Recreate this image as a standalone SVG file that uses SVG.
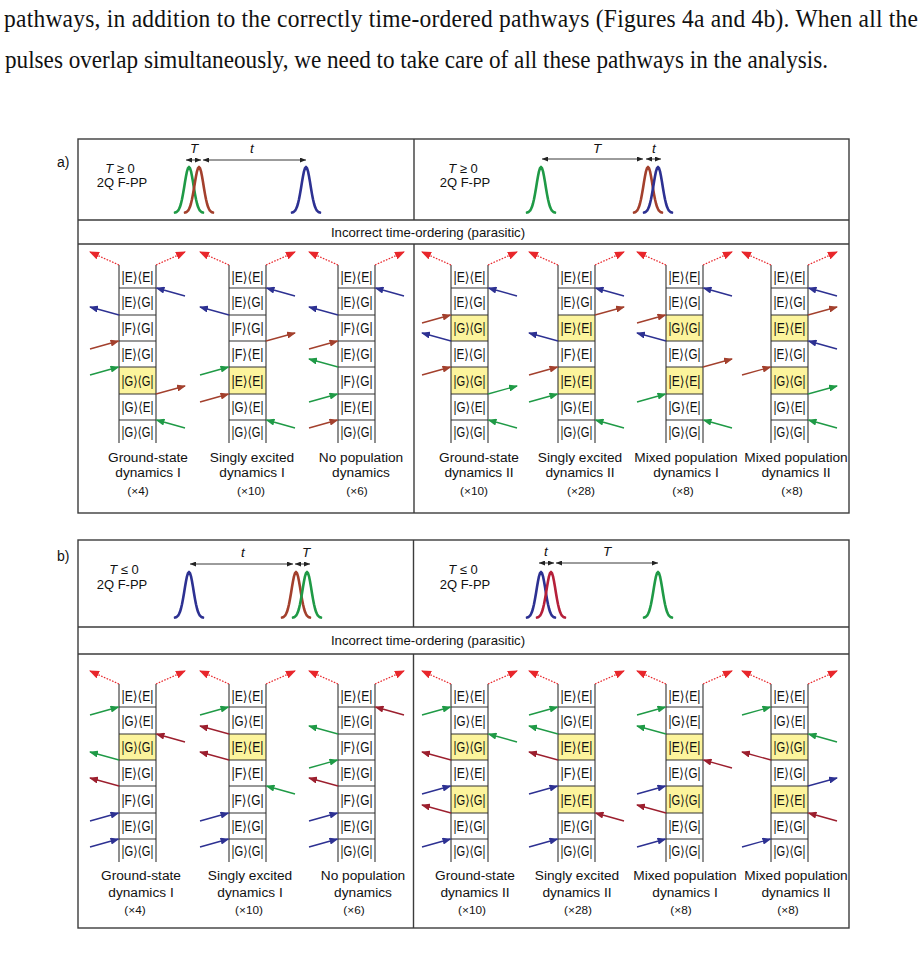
<svg xmlns="http://www.w3.org/2000/svg" xmlns:xlink="http://www.w3.org/1999/xlink" width="924" height="965" viewBox="0 0 924 965">
<style>
.para{font-family:"Liberation Serif","Times New Roman",serif;font-size:23.5px;fill:#111}
.sans{font-family:"Liberation Sans",Arial,sans-serif;fill:#111}
.frame{fill:none;stroke:#3c3c3c;stroke-width:1.4}
.rail{fill:none;stroke:#333;stroke-width:1.1}
.hl{fill:#fcf49c}
.st{font-family:"Liberation Sans","DejaVu Sans",sans-serif;font-size:14px;text-anchor:middle;fill:#111}
.lbl{font-family:"Liberation Sans",Arial,sans-serif;font-size:13.7px;text-anchor:middle;fill:#111}
.mult{font-family:"Liberation Sans",Arial,sans-serif;font-size:11.8px;text-anchor:middle;fill:#111}
.hdr{font-family:"Liberation Sans",Arial,sans-serif;font-size:13.2px;text-anchor:middle;fill:#111}
.cond{font-family:"Liberation Sans",Arial,sans-serif;font-size:13px;text-anchor:middle;fill:#111}
.dl{font-family:"Liberation Sans",Arial,sans-serif;font-size:13.5px;font-style:italic;text-anchor:middle;fill:#111}
.tarr{fill:none;stroke:#222;stroke-width:0.9;marker-start:url(#tk);marker-end:url(#tk)}
.pulse{fill:none;stroke-width:2.6;stroke-linejoin:round;stroke-linecap:round}
.cb{fill:none;stroke:#2d3192;stroke-width:1.3;marker-end:url(#hB)}
.cg{fill:none;stroke:#1f9a46;stroke-width:1.3;marker-end:url(#hG)}
.cr{fill:none;stroke:#a3402d;stroke-width:1.3;marker-end:url(#hR)}
.cc{fill:none;stroke:#9c1f2e;stroke-width:1.3;marker-end:url(#hC)}
.cd{fill:none;stroke:#e8262b;stroke-width:1.2;stroke-dasharray:1.6 1.4;marker-end:url(#hD)}
</style>
<defs>
<marker id="hB" markerUnits="userSpaceOnUse" markerWidth="9" markerHeight="7" refX="8" refY="3.5" orient="auto"><path d="M0,0L9,3.5L0,7z" fill="#2d3192"/></marker>
<marker id="hG" markerUnits="userSpaceOnUse" markerWidth="9" markerHeight="7" refX="8" refY="3.5" orient="auto"><path d="M0,0L9,3.5L0,7z" fill="#1f9a46"/></marker>
<marker id="hR" markerUnits="userSpaceOnUse" markerWidth="9" markerHeight="7" refX="8" refY="3.5" orient="auto"><path d="M0,0L9,3.5L0,7z" fill="#a3402d"/></marker>
<marker id="hC" markerUnits="userSpaceOnUse" markerWidth="9" markerHeight="7" refX="8" refY="3.5" orient="auto"><path d="M0,0L9,3.5L0,7z" fill="#9c1f2e"/></marker>
<marker id="hD" markerUnits="userSpaceOnUse" markerWidth="10" markerHeight="8" refX="9" refY="4" orient="auto"><path d="M0,0L10,4L0,8z" fill="#e8262b"/></marker>
<marker id="tk" markerUnits="userSpaceOnUse" markerWidth="6" markerHeight="5" refX="6" refY="2.5" orient="auto-start-reverse"><path d="M0,0L6,2.5L0,5z" fill="#222"/></marker>
<path id="pulse" d="M-14,-0.4L-13,-0.7L-12,-1.3L-11,-2.3L-10,-3.9L-9,-6.2L-8,-9.5L-7,-13.7L-6,-18.9L-5,-24.8L-4,-31L-3,-36.8L-2,-41.7L-1,-44.9L0,-46L1,-44.9L2,-41.7L3,-36.8L4,-31L5,-24.8L6,-18.9L7,-13.7L8,-9.5L9,-6.2L10,-3.9L11,-2.3L12,-1.3L13,-0.7L14,-0.4"/>
<path id="fr" d="M0,0V178M37,0V178M0,23H37M0,50H37M0,76H37M0,102H37M0,129H37M0,155H37"/>
</defs>
<rect width="924" height="965" fill="#fff"/>

<g id="paragraph" transform="scale(1,1.1)">
<text class="para" x="4" y="24.5" textLength="914" lengthAdjust="spacing">pathways, in addition to the correctly time-ordered pathways (Figures 4a and 4b). When all the</text>
<text class="para" x="5" y="61.8" textLength="823" lengthAdjust="spacingAndGlyphs">pulses overlap simultaneously, we need to take care of all these pathways in the analysis.</text>
</g>

<!-- PANEL A -->
<g id="panelA">
<text class="sans" x="57" y="167" font-size="14">a)</text>
<rect class="frame" x="78" y="139" width="771" height="374"/>
<path class="frame" d="M78,220H849M78,244H849M414,139V220M414,244V513"/>
<text class="hdr" x="428" y="237">Incorrect time-ordering (parasitic)</text>
</g>

<g id="pulsesA1">
<text class="cond" x="120" y="173"><tspan font-style="italic">T</tspan> ≥ 0</text>
<text class="cond" x="122" y="187">2Q F-PP</text>
<use href="#pulse" x="189" y="213" class="pulse" stroke="#1f9a46"/>
<use href="#pulse" x="199" y="213" class="pulse" stroke="#a3402d"/>
<use href="#pulse" x="306" y="213" class="pulse" stroke="#2d3192"/>
<path class="tarr" d="M186,160H201"/>
<path class="tarr" d="M203,160H306"/>
<text class="dl" x="194" y="153">T</text>
<text class="dl" x="252" y="153">t</text>
</g>

<g id="pulsesA2">
<text class="cond" x="463" y="173"><tspan font-style="italic">T</tspan> ≥ 0</text>
<text class="cond" x="465" y="187">2Q F-PP</text>
<use href="#pulse" x="541" y="213" class="pulse" stroke="#1f9a46"/>
<use href="#pulse" x="648" y="213" class="pulse" stroke="#a3402d"/>
<use href="#pulse" x="658" y="213" class="pulse" stroke="#2d3192"/>
<path class="tarr" d="M542,159H643"/>
<path class="tarr" d="M646,159H661"/>
<text class="dl" x="597" y="153">T</text>
<text class="dl" x="654" y="153">t</text>
</g>

<g id="a1">
<g transform="translate(119,265)">
<rect class="hl" x="0" y="102" width="37" height="27"/>
<use href="#fr" class="rail"/>
<text class="st" x="18.5" y="16.5" textLength="32" lengthAdjust="spacingAndGlyphs">|E⟩⟨E|</text>
<text class="st" x="18.5" y="41.5" textLength="32" lengthAdjust="spacingAndGlyphs">|E⟩⟨G|</text>
<text class="st" x="18.5" y="68" textLength="32" lengthAdjust="spacingAndGlyphs">|F⟩⟨G|</text>
<text class="st" x="18.5" y="94" textLength="32" lengthAdjust="spacingAndGlyphs">|E⟩⟨G|</text>
<text class="st" x="18.5" y="120.5" textLength="32" lengthAdjust="spacingAndGlyphs">|G⟩⟨G|</text>
<text class="st" x="18.5" y="147" textLength="32" lengthAdjust="spacingAndGlyphs">|G⟩⟨E|</text>
<text class="st" x="18.5" y="171.5" textLength="32" lengthAdjust="spacingAndGlyphs">|G⟩⟨G|</text>
</g>
<text class="lbl" x="148" y="462">Ground-state</text>
<text class="lbl" x="148" y="477">dynamics I</text>
<text class="mult" x="138" y="495">(×4)</text>
</g>

<g id="a2">
<g transform="translate(229,265)">
<rect class="hl" x="0" y="102" width="37" height="27"/>
<use href="#fr" class="rail"/>
<text class="st" x="18.5" y="16.5" textLength="32" lengthAdjust="spacingAndGlyphs">|E⟩⟨E|</text>
<text class="st" x="18.5" y="41.5" textLength="32" lengthAdjust="spacingAndGlyphs">|E⟩⟨G|</text>
<text class="st" x="18.5" y="68" textLength="32" lengthAdjust="spacingAndGlyphs">|F⟩⟨G|</text>
<text class="st" x="18.5" y="94" textLength="32" lengthAdjust="spacingAndGlyphs">|F⟩⟨E|</text>
<text class="st" x="18.5" y="120.5" textLength="32" lengthAdjust="spacingAndGlyphs">|E⟩⟨E|</text>
<text class="st" x="18.5" y="147" textLength="32" lengthAdjust="spacingAndGlyphs">|G⟩⟨E|</text>
<text class="st" x="18.5" y="171.5" textLength="32" lengthAdjust="spacingAndGlyphs">|G⟩⟨G|</text>
</g>
<text class="lbl" x="252" y="462">Singly excited</text>
<text class="lbl" x="252" y="477">dynamics I</text>
<text class="mult" x="251" y="495">(×10)</text>
</g>

<g id="a3">
<g transform="translate(338,265)">
<use href="#fr" class="rail"/>
<text class="st" x="18.5" y="16.5" textLength="32" lengthAdjust="spacingAndGlyphs">|E⟩⟨E|</text>
<text class="st" x="18.5" y="41.5" textLength="32" lengthAdjust="spacingAndGlyphs">|E⟩⟨G|</text>
<text class="st" x="18.5" y="68" textLength="32" lengthAdjust="spacingAndGlyphs">|F⟩⟨G|</text>
<text class="st" x="18.5" y="94" textLength="32" lengthAdjust="spacingAndGlyphs">|E⟩⟨G|</text>
<text class="st" x="18.5" y="120.5" textLength="32" lengthAdjust="spacingAndGlyphs">|F⟩⟨G|</text>
<text class="st" x="18.5" y="147" textLength="32" lengthAdjust="spacingAndGlyphs">|E⟩⟨E|</text>
<text class="st" x="18.5" y="171.5" textLength="32" lengthAdjust="spacingAndGlyphs">|G⟩⟨G|</text>
</g>
<text class="lbl" x="361" y="462">No population</text>
<text class="lbl" x="361" y="477">dynamics</text>
<text class="mult" x="357" y="495">(×6)</text>
</g>

<g id="a4">
<g transform="translate(451,265)">
<rect class="hl" x="0" y="50" width="37" height="26"/>
<rect class="hl" x="0" y="102" width="37" height="27"/>
<use href="#fr" class="rail"/>
<text class="st" x="18.5" y="16.5" textLength="32" lengthAdjust="spacingAndGlyphs">|E⟩⟨E|</text>
<text class="st" x="18.5" y="41.5" textLength="32" lengthAdjust="spacingAndGlyphs">|E⟩⟨G|</text>
<text class="st" x="18.5" y="68" textLength="32" lengthAdjust="spacingAndGlyphs">|G⟩⟨G|</text>
<text class="st" x="18.5" y="94" textLength="32" lengthAdjust="spacingAndGlyphs">|E⟩⟨G|</text>
<text class="st" x="18.5" y="120.5" textLength="32" lengthAdjust="spacingAndGlyphs">|G⟩⟨G|</text>
<text class="st" x="18.5" y="147" textLength="32" lengthAdjust="spacingAndGlyphs">|G⟩⟨E|</text>
<text class="st" x="18.5" y="171.5" textLength="32" lengthAdjust="spacingAndGlyphs">|G⟩⟨G|</text>
</g>
<text class="lbl" x="479" y="462">Ground-state</text>
<text class="lbl" x="479" y="477">dynamics II</text>
<text class="mult" x="474" y="495">(×10)</text>
</g>

<g id="a5">
<g transform="translate(558,265)">
<rect class="hl" x="0" y="50" width="37" height="26"/>
<rect class="hl" x="0" y="102" width="37" height="27"/>
<use href="#fr" class="rail"/>
<text class="st" x="18.5" y="16.5" textLength="32" lengthAdjust="spacingAndGlyphs">|E⟩⟨E|</text>
<text class="st" x="18.5" y="41.5" textLength="32" lengthAdjust="spacingAndGlyphs">|E⟩⟨G|</text>
<text class="st" x="18.5" y="68" textLength="32" lengthAdjust="spacingAndGlyphs">|E⟩⟨E|</text>
<text class="st" x="18.5" y="94" textLength="32" lengthAdjust="spacingAndGlyphs">|F⟩⟨E|</text>
<text class="st" x="18.5" y="120.5" textLength="32" lengthAdjust="spacingAndGlyphs">|E⟩⟨E|</text>
<text class="st" x="18.5" y="147" textLength="32" lengthAdjust="spacingAndGlyphs">|G⟩⟨E|</text>
<text class="st" x="18.5" y="171.5" textLength="32" lengthAdjust="spacingAndGlyphs">|G⟩⟨G|</text>
</g>
<text class="lbl" x="580" y="462">Singly excited</text>
<text class="lbl" x="580" y="477">dynamics II</text>
<text class="mult" x="581" y="495">(×28)</text>
</g>

<g id="a6">
<g transform="translate(666,265)">
<rect class="hl" x="0" y="50" width="37" height="26"/>
<rect class="hl" x="0" y="102" width="37" height="27"/>
<use href="#fr" class="rail"/>
<text class="st" x="18.5" y="16.5" textLength="32" lengthAdjust="spacingAndGlyphs">|E⟩⟨E|</text>
<text class="st" x="18.5" y="41.5" textLength="32" lengthAdjust="spacingAndGlyphs">|E⟩⟨G|</text>
<text class="st" x="18.5" y="68" textLength="32" lengthAdjust="spacingAndGlyphs">|G⟩⟨G|</text>
<text class="st" x="18.5" y="94" textLength="32" lengthAdjust="spacingAndGlyphs">|E⟩⟨G|</text>
<text class="st" x="18.5" y="120.5" textLength="32" lengthAdjust="spacingAndGlyphs">|E⟩⟨E|</text>
<text class="st" x="18.5" y="147" textLength="32" lengthAdjust="spacingAndGlyphs">|G⟩⟨E|</text>
<text class="st" x="18.5" y="171.5" textLength="32" lengthAdjust="spacingAndGlyphs">|G⟩⟨G|</text>
</g>
<text class="lbl" x="686" y="462">Mixed population</text>
<text class="lbl" x="686" y="477">dynamics I</text>
<text class="mult" x="683" y="495">(×8)</text>
</g>

<g id="a7">
<g transform="translate(771,265)">
<rect class="hl" x="0" y="50" width="37" height="26"/>
<rect class="hl" x="0" y="102" width="37" height="27"/>
<use href="#fr" class="rail"/>
<text class="st" x="18.5" y="16.5" textLength="32" lengthAdjust="spacingAndGlyphs">|E⟩⟨E|</text>
<text class="st" x="18.5" y="41.5" textLength="32" lengthAdjust="spacingAndGlyphs">|E⟩⟨G|</text>
<text class="st" x="18.5" y="68" textLength="32" lengthAdjust="spacingAndGlyphs">|E⟩⟨E|</text>
<text class="st" x="18.5" y="94" textLength="32" lengthAdjust="spacingAndGlyphs">|E⟩⟨G|</text>
<text class="st" x="18.5" y="120.5" textLength="32" lengthAdjust="spacingAndGlyphs">|G⟩⟨G|</text>
<text class="st" x="18.5" y="147" textLength="32" lengthAdjust="spacingAndGlyphs">|G⟩⟨E|</text>
<text class="st" x="18.5" y="171.5" textLength="32" lengthAdjust="spacingAndGlyphs">|G⟩⟨G|</text>
</g>
<text class="lbl" x="796" y="462">Mixed population</text>
<text class="lbl" x="796" y="477">dynamics II</text>
<text class="mult" x="792" y="495">(×8)</text>
</g>

<!-- PANEL B -->
<g id="panelB">
<text class="sans" x="57" y="561" font-size="14">b)</text>
<rect class="frame" x="78" y="540" width="771" height="388"/>
<path class="frame" d="M78,627H849M78,654H849M413.5,540V627M413.5,654V928"/>
<text class="hdr" x="428" y="645">Incorrect time-ordering (parasitic)</text>
</g>

<g id="pulsesB1">
<text class="cond" x="124" y="574"><tspan font-style="italic">T</tspan> ≤ 0</text>
<text class="cond" x="122" y="589">2Q F-PP</text>
<use href="#pulse" x="189" y="618" class="pulse" stroke="#2d3192"/>
<use href="#pulse" x="296" y="618" class="pulse" stroke="#a3402d"/>
<use href="#pulse" x="307" y="618" class="pulse" stroke="#1f9a46"/>
<path class="tarr" d="M190,564H293"/>
<path class="tarr" d="M295,564H310"/>
<text class="dl" x="243" y="557">t</text>
<text class="dl" x="306" y="557">T</text>
</g>

<g id="pulsesB2">
<text class="cond" x="463" y="574"><tspan font-style="italic">T</tspan> ≤ 0</text>
<text class="cond" x="465" y="589">2Q F-PP</text>
<use href="#pulse" x="541" y="618" class="pulse" stroke="#2d3192"/>
<use href="#pulse" x="551" y="618" class="pulse" stroke="#b5203a"/>
<use href="#pulse" x="658" y="618" class="pulse" stroke="#1f9a46"/>
<path class="tarr" d="M539,563H554"/>
<path class="tarr" d="M556,563H658"/>
<text class="dl" x="546" y="556">t</text>
<text class="dl" x="607" y="556">T</text>
</g>

<g id="b1">
<g transform="translate(119,684)">
<rect class="hl" x="0" y="50" width="37" height="26"/>
<use href="#fr" class="rail"/>
<text class="st" x="18.5" y="16.5" textLength="32" lengthAdjust="spacingAndGlyphs">|E⟩⟨E|</text>
<text class="st" x="18.5" y="41.5" textLength="32" lengthAdjust="spacingAndGlyphs">|G⟩⟨E|</text>
<text class="st" x="18.5" y="68" textLength="32" lengthAdjust="spacingAndGlyphs">|G⟩⟨G|</text>
<text class="st" x="18.5" y="94" textLength="32" lengthAdjust="spacingAndGlyphs">|E⟩⟨G|</text>
<text class="st" x="18.5" y="120.5" textLength="32" lengthAdjust="spacingAndGlyphs">|F⟩⟨G|</text>
<text class="st" x="18.5" y="147" textLength="32" lengthAdjust="spacingAndGlyphs">|E⟩⟨G|</text>
<text class="st" x="18.5" y="171.5" textLength="32" lengthAdjust="spacingAndGlyphs">|G⟩⟨G|</text>
</g>
<text class="lbl" x="141" y="880">Ground-state</text>
<text class="lbl" x="141" y="897">dynamics I</text>
<text class="mult" x="135" y="914">(×4)</text>
</g>

<g id="b2">
<g transform="translate(229,684)">
<rect class="hl" x="0" y="50" width="37" height="26"/>
<use href="#fr" class="rail"/>
<text class="st" x="18.5" y="16.5" textLength="32" lengthAdjust="spacingAndGlyphs">|E⟩⟨E|</text>
<text class="st" x="18.5" y="41.5" textLength="32" lengthAdjust="spacingAndGlyphs">|G⟩⟨E|</text>
<text class="st" x="18.5" y="68" textLength="32" lengthAdjust="spacingAndGlyphs">|E⟩⟨E|</text>
<text class="st" x="18.5" y="94" textLength="32" lengthAdjust="spacingAndGlyphs">|F⟩⟨E|</text>
<text class="st" x="18.5" y="120.5" textLength="32" lengthAdjust="spacingAndGlyphs">|F⟩⟨G|</text>
<text class="st" x="18.5" y="147" textLength="32" lengthAdjust="spacingAndGlyphs">|E⟩⟨G|</text>
<text class="st" x="18.5" y="171.5" textLength="32" lengthAdjust="spacingAndGlyphs">|G⟩⟨G|</text>
</g>
<text class="lbl" x="250" y="880">Singly excited</text>
<text class="lbl" x="250" y="897">dynamics I</text>
<text class="mult" x="249" y="914">(×10)</text>
</g>

<g id="b3">
<g transform="translate(338,684)">
<use href="#fr" class="rail"/>
<text class="st" x="18.5" y="16.5" textLength="32" lengthAdjust="spacingAndGlyphs">|E⟩⟨E|</text>
<text class="st" x="18.5" y="41.5" textLength="32" lengthAdjust="spacingAndGlyphs">|E⟩⟨G|</text>
<text class="st" x="18.5" y="68" textLength="32" lengthAdjust="spacingAndGlyphs">|F⟩⟨G|</text>
<text class="st" x="18.5" y="94" textLength="32" lengthAdjust="spacingAndGlyphs">|E⟩⟨G|</text>
<text class="st" x="18.5" y="120.5" textLength="32" lengthAdjust="spacingAndGlyphs">|F⟩⟨G|</text>
<text class="st" x="18.5" y="147" textLength="32" lengthAdjust="spacingAndGlyphs">|E⟩⟨G|</text>
<text class="st" x="18.5" y="171.5" textLength="32" lengthAdjust="spacingAndGlyphs">|G⟩⟨G|</text>
</g>
<text class="lbl" x="363" y="880">No population</text>
<text class="lbl" x="363" y="897">dynamics</text>
<text class="mult" x="354" y="914">(×6)</text>
</g>

<g id="b4">
<g transform="translate(451,684)">
<rect class="hl" x="0" y="50" width="37" height="26"/>
<rect class="hl" x="0" y="102" width="37" height="27"/>
<use href="#fr" class="rail"/>
<text class="st" x="18.5" y="16.5" textLength="32" lengthAdjust="spacingAndGlyphs">|E⟩⟨E|</text>
<text class="st" x="18.5" y="41.5" textLength="32" lengthAdjust="spacingAndGlyphs">|G⟩⟨E|</text>
<text class="st" x="18.5" y="68" textLength="32" lengthAdjust="spacingAndGlyphs">|G⟩⟨G|</text>
<text class="st" x="18.5" y="94" textLength="32" lengthAdjust="spacingAndGlyphs">|E⟩⟨E|</text>
<text class="st" x="18.5" y="120.5" textLength="32" lengthAdjust="spacingAndGlyphs">|G⟩⟨G|</text>
<text class="st" x="18.5" y="147" textLength="32" lengthAdjust="spacingAndGlyphs">|E⟩⟨G|</text>
<text class="st" x="18.5" y="171.5" textLength="32" lengthAdjust="spacingAndGlyphs">|G⟩⟨G|</text>
</g>
<text class="lbl" x="475" y="880">Ground-state</text>
<text class="lbl" x="475" y="897">dynamics II</text>
<text class="mult" x="472" y="914">(×10)</text>
</g>

<g id="b5">
<g transform="translate(558,684)">
<rect class="hl" x="0" y="50" width="37" height="26"/>
<rect class="hl" x="0" y="102" width="37" height="27"/>
<use href="#fr" class="rail"/>
<text class="st" x="18.5" y="16.5" textLength="32" lengthAdjust="spacingAndGlyphs">|E⟩⟨E|</text>
<text class="st" x="18.5" y="41.5" textLength="32" lengthAdjust="spacingAndGlyphs">|G⟩⟨E|</text>
<text class="st" x="18.5" y="68" textLength="32" lengthAdjust="spacingAndGlyphs">|E⟩⟨E|</text>
<text class="st" x="18.5" y="94" textLength="32" lengthAdjust="spacingAndGlyphs">|F⟩⟨E|</text>
<text class="st" x="18.5" y="120.5" textLength="32" lengthAdjust="spacingAndGlyphs">|E⟩⟨E|</text>
<text class="st" x="18.5" y="147" textLength="32" lengthAdjust="spacingAndGlyphs">|E⟩⟨G|</text>
<text class="st" x="18.5" y="171.5" textLength="32" lengthAdjust="spacingAndGlyphs">|G⟩⟨G|</text>
</g>
<text class="lbl" x="577" y="880">Singly excited</text>
<text class="lbl" x="577" y="897">dynamics II</text>
<text class="mult" x="578" y="914">(×28)</text>
</g>

<g id="b6">
<g transform="translate(666,684)">
<rect class="hl" x="0" y="50" width="37" height="26"/>
<rect class="hl" x="0" y="102" width="37" height="27"/>
<use href="#fr" class="rail"/>
<text class="st" x="18.5" y="16.5" textLength="32" lengthAdjust="spacingAndGlyphs">|E⟩⟨E|</text>
<text class="st" x="18.5" y="41.5" textLength="32" lengthAdjust="spacingAndGlyphs">|G⟩⟨E|</text>
<text class="st" x="18.5" y="68" textLength="32" lengthAdjust="spacingAndGlyphs">|E⟩⟨E|</text>
<text class="st" x="18.5" y="94" textLength="32" lengthAdjust="spacingAndGlyphs">|E⟩⟨G|</text>
<text class="st" x="18.5" y="120.5" textLength="32" lengthAdjust="spacingAndGlyphs">|G⟩⟨G|</text>
<text class="st" x="18.5" y="147" textLength="32" lengthAdjust="spacingAndGlyphs">|E⟩⟨G|</text>
<text class="st" x="18.5" y="171.5" textLength="32" lengthAdjust="spacingAndGlyphs">|G⟩⟨G|</text>
</g>
<text class="lbl" x="685" y="880">Mixed population</text>
<text class="lbl" x="685" y="897">dynamics I</text>
<text class="mult" x="681" y="914">(×8)</text>
</g>

<g id="b7">
<g transform="translate(771,684)">
<rect class="hl" x="0" y="50" width="37" height="26"/>
<rect class="hl" x="0" y="102" width="37" height="27"/>
<use href="#fr" class="rail"/>
<text class="st" x="18.5" y="16.5" textLength="32" lengthAdjust="spacingAndGlyphs">|E⟩⟨E|</text>
<text class="st" x="18.5" y="41.5" textLength="32" lengthAdjust="spacingAndGlyphs">|G⟩⟨E|</text>
<text class="st" x="18.5" y="68" textLength="32" lengthAdjust="spacingAndGlyphs">|G⟩⟨G|</text>
<text class="st" x="18.5" y="94" textLength="32" lengthAdjust="spacingAndGlyphs">|E⟩⟨G|</text>
<text class="st" x="18.5" y="120.5" textLength="32" lengthAdjust="spacingAndGlyphs">|E⟩⟨E|</text>
<text class="st" x="18.5" y="147" textLength="32" lengthAdjust="spacingAndGlyphs">|E⟩⟨G|</text>
<text class="st" x="18.5" y="171.5" textLength="32" lengthAdjust="spacingAndGlyphs">|G⟩⟨G|</text>
</g>
<text class="lbl" x="796" y="880">Mixed population</text>
<text class="lbl" x="796" y="897">dynamics II</text>
<text class="mult" x="788" y="914">(×8)</text>
</g>

<g id="connectors">
<g transform="translate(119,0)">
<path class="cd" d="M0,265L-29,252"/><path class="cd" d="M37,265L66,252"/>
<path class="cb" d="M66,296L37.5,288"/><path class="cb" d="M0,315L-29,307"/>
<path class="cr" d="M-29,349L-0.5,341"/><path class="cg" d="M-29,375L-0.5,367"/>
<path class="cr" d="M37,394L66,386"/><path class="cg" d="M66,428L37.5,420"/>
</g>
<g transform="translate(229,0)">
<path class="cd" d="M0,265L-29,252"/><path class="cd" d="M37,265L66,252"/>
<path class="cb" d="M66,296L37.5,288"/><path class="cb" d="M0,315L-29,307"/>
<path class="cr" d="M37,341L66,333"/><path class="cg" d="M-29,375L-0.5,367"/>
<path class="cr" d="M-29,402L-0.5,394"/><path class="cg" d="M66,428L37.5,420"/>
</g>
<g transform="translate(338,0)">
<path class="cd" d="M0,265L-29,252"/><path class="cd" d="M37,265L66,252"/>
<path class="cb" d="M66,296L37.5,288"/><path class="cb" d="M0,315L-29,307"/>
<path class="cr" d="M-29,349L-0.5,341"/><path class="cg" d="M0,367L-29,359"/>
<path class="cg" d="M-29,402L-0.5,394"/><path class="cr" d="M-29,428L-0.5,420"/>
</g>
<g transform="translate(451,0)">
<path class="cd" d="M0,265L-29,252"/><path class="cd" d="M37,265L66,252"/>
<path class="cb" d="M66,296L37.5,288"/><path class="cr" d="M-29,323L-0.5,315"/>
<path class="cb" d="M0,341L-29,333"/><path class="cr" d="M-29,375L-0.5,367"/>
<path class="cg" d="M37,394L66,386"/><path class="cg" d="M66,428L37.5,420"/>
</g>
<g transform="translate(558,0)">
<path class="cd" d="M0,265L-29,252"/><path class="cd" d="M37,265L66,252"/>
<path class="cb" d="M66,296L37.5,288"/><path class="cr" d="M37,315L66,307"/>
<path class="cb" d="M0,341L-29,333"/><path class="cr" d="M-29,375L-0.5,367"/>
<path class="cg" d="M-29,402L-0.5,394"/><path class="cg" d="M66,428L37.5,420"/>
</g>
<g transform="translate(666,0)">
<path class="cd" d="M0,265L-29,252"/><path class="cd" d="M37,265L66,252"/>
<path class="cb" d="M66,296L37.5,288"/><path class="cr" d="M-29,323L-0.5,315"/>
<path class="cb" d="M0,341L-29,333"/><path class="cr" d="M37,367L66,359"/>
<path class="cg" d="M-29,402L-0.5,394"/><path class="cg" d="M66,428L37.5,420"/>
</g>
<g transform="translate(771,0)">
<path class="cd" d="M0,265L-29,252"/><path class="cd" d="M37,265L66,252"/>
<path class="cb" d="M66,296L37.5,288"/><path class="cr" d="M37,315L66,307"/>
<path class="cb" d="M66,349L37.5,341"/><path class="cr" d="M-29,375L-0.5,367"/>
<path class="cg" d="M37,394L66,386"/><path class="cg" d="M66,428L37.5,420"/>
</g>

<g transform="translate(119,0)">
<path class="cd" d="M0,684L-29,671"/><path class="cd" d="M37,684L66,671"/>
<path class="cg" d="M-29,715L-0.5,707"/><path class="cc" d="M66,742L37.5,734"/>
<path class="cg" d="M0,760L-29,752"/><path class="cc" d="M0,786L-29,778"/>
<path class="cb" d="M-29,821L-0.5,813"/><path class="cb" d="M-29,847L-0.5,839"/>
</g>
<g transform="translate(229,0)">
<path class="cd" d="M0,684L-29,671"/><path class="cd" d="M37,684L66,671"/>
<path class="cg" d="M-29,715L-0.5,707"/><path class="cc" d="M0,734L-29,726"/>
<path class="cc" d="M0,760L-29,752"/><path class="cg" d="M66,794L37.5,786"/>
<path class="cb" d="M-29,821L-0.5,813"/><path class="cb" d="M-29,847L-0.5,839"/>
</g>
<g transform="translate(338,0)">
<path class="cd" d="M0,684L-29,671"/><path class="cd" d="M37,684L66,671"/>
<path class="cc" d="M66,715L37.5,707"/><path class="cg" d="M0,734L-29,726"/>
<path class="cg" d="M-29,768L-0.5,760"/><path class="cc" d="M0,786L-29,778"/>
<path class="cb" d="M-29,821L-0.5,813"/><path class="cb" d="M-29,847L-0.5,839"/>
</g>
<g transform="translate(451,0)">
<path class="cd" d="M0,684L-29,671"/><path class="cd" d="M37,684L66,671"/>
<path class="cg" d="M-29,715L-0.5,707"/><path class="cg" d="M66,742L37.5,734"/>
<path class="cc" d="M0,760L-29,752"/><path class="cb" d="M-29,794L-0.5,786"/>
<path class="cc" d="M0,813L-29,805"/><path class="cb" d="M-29,847L-0.5,839"/>
</g>
<g transform="translate(558,0)">
<path class="cd" d="M0,684L-29,671"/><path class="cd" d="M37,684L66,671"/>
<path class="cg" d="M-29,715L-0.5,707"/><path class="cg" d="M0,734L-29,726"/>
<path class="cc" d="M0,760L-29,752"/><path class="cb" d="M-29,794L-0.5,786"/>
<path class="cc" d="M66,821L37.5,813"/><path class="cb" d="M-29,847L-0.5,839"/>
</g>
<g transform="translate(666,0)">
<path class="cd" d="M0,684L-29,671"/><path class="cd" d="M37,684L66,671"/>
<path class="cg" d="M-29,715L-0.5,707"/><path class="cg" d="M0,734L-29,726"/>
<path class="cc" d="M66,768L37.5,760"/><path class="cb" d="M-29,794L-0.5,786"/>
<path class="cc" d="M0,813L-29,805"/><path class="cb" d="M-29,847L-0.5,839"/>
</g>
<g transform="translate(771,0)">
<path class="cd" d="M0,684L-29,671"/><path class="cd" d="M37,684L66,671"/>
<path class="cg" d="M-29,715L-0.5,707"/><path class="cg" d="M66,742L37.5,734"/>
<path class="cc" d="M0,760L-29,752"/><path class="cb" d="M37,786L66,778"/>
<path class="cc" d="M66,821L37.5,813"/><path class="cb" d="M-29,847L-0.5,839"/>
</g>
</g>
</svg>
